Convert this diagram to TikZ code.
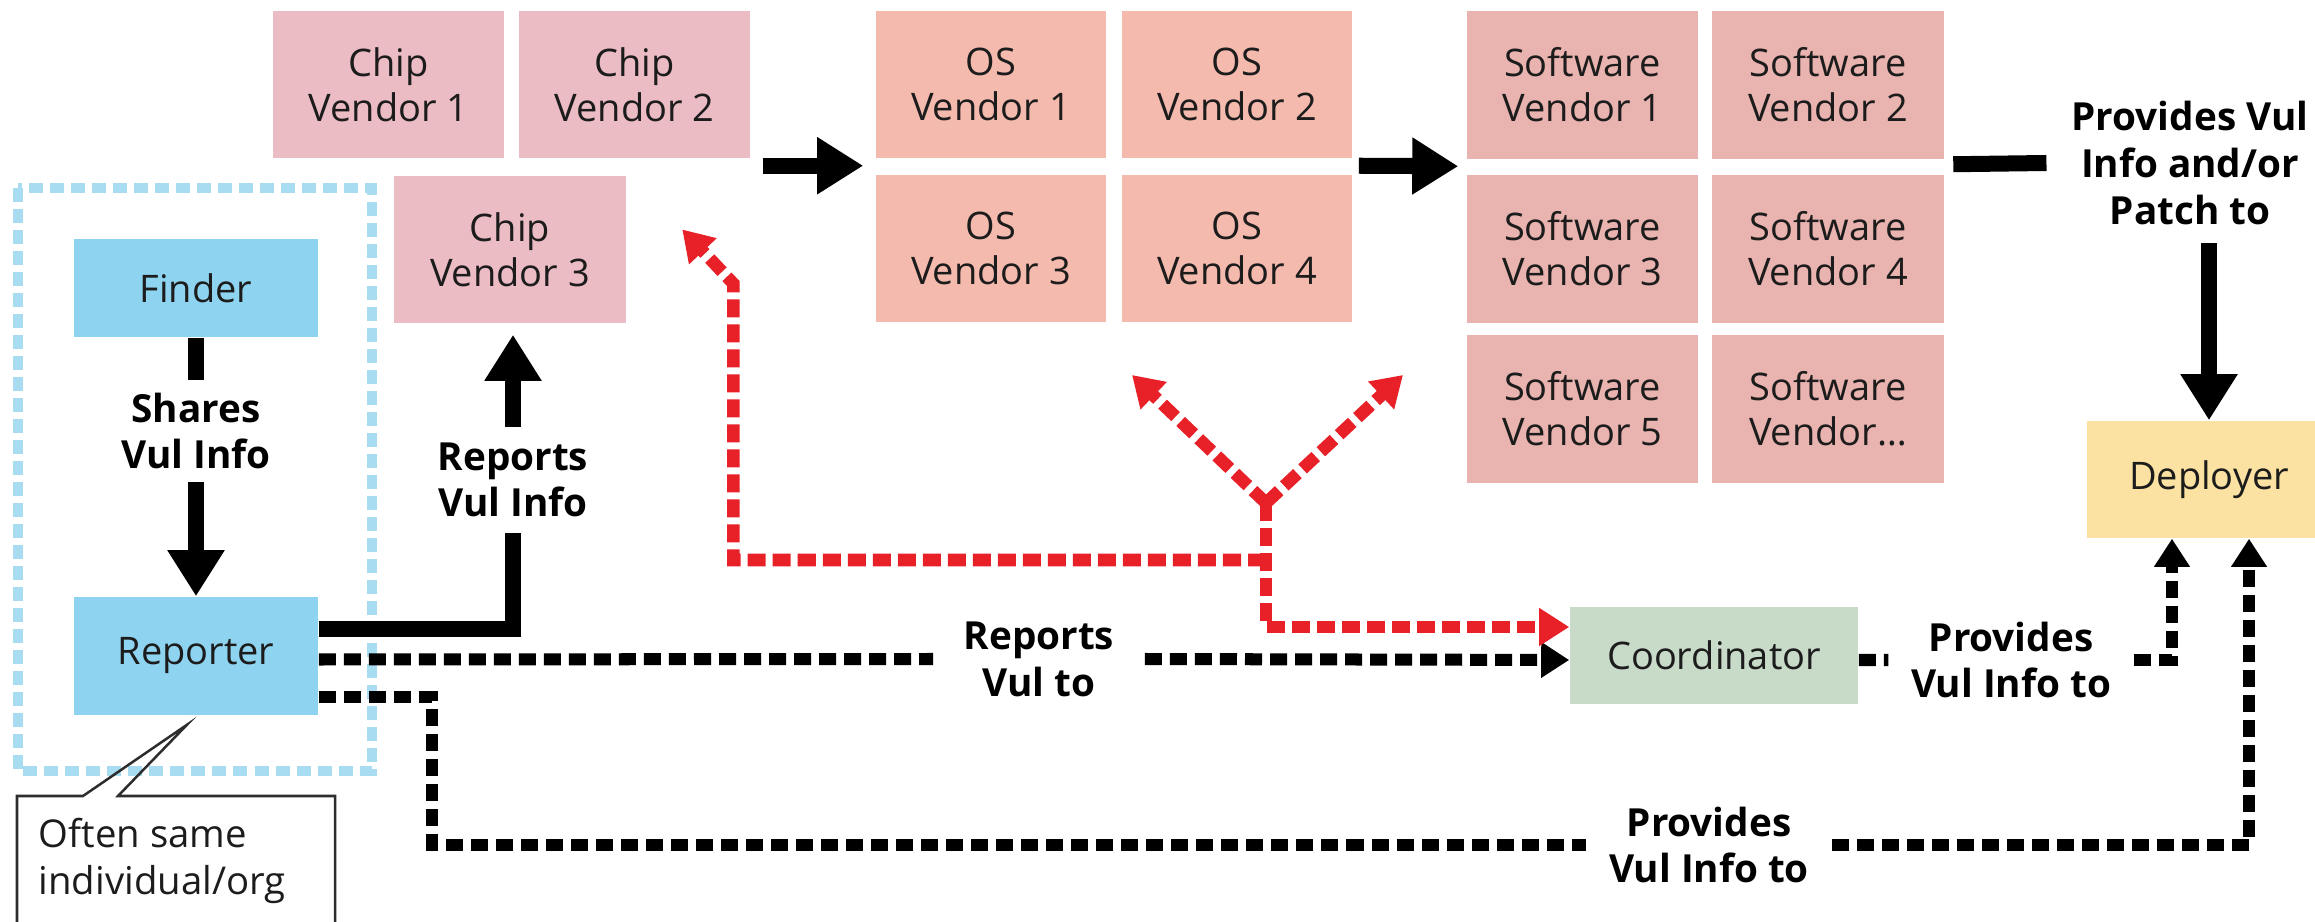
\documentclass[tikz,border=0pt]{standalone}
\usepackage{fontspec}
\setmainfont{Open Sans}
\usetikzlibrary{arrows.meta,calc}

\definecolor{txt}{RGB}{28,28,28}
\definecolor{chipc}{RGB}{236,188,197}
\definecolor{osc}{RGB}{245,186,174}
\definecolor{swc}{RGB}{233,179,175}
\definecolor{actorc}{RGB}{142,212,240}
\definecolor{groupc}{RGB}{168,221,241}
\definecolor{coordc}{RGB}{200,218,200}
\definecolor{deployc}{RGB}{252,226,162}
\definecolor{redc}{RGB}{232,32,40}
\definecolor{notec}{RGB}{45,45,45}

\begin{document}
\begin{tikzpicture}[x=0.01cm,y=-0.01cm,
  box/.style={minimum width=2.31cm, minimum height=1.47cm, inner sep=0pt,
    align=center, text=txt, font=\fontsize{10.8}{12.8}\selectfont},
  chip/.style={box, fill=chipc},
  osbox/.style={box, fill=osc, minimum width=2.30cm},
  swbox/.style={box, fill=swc},
  actor/.style={box, fill=actorc, minimum width=2.44cm},
  lbl/.style={align=center, inner sep=0pt, text=black,
    font=\fontsize{11}{13.3}\selectfont\bfseries},
  solidline/.style={line width=0.16cm, black, line join=miter},
  bigarrow/.style={solidline, -{Triangle[length=0.46cm,width=0.54cm]}},
  dline/.style={line width=0.12cm, black, dash pattern=on 0.17cm off 0.08cm, line join=miter},
  darrow/.style={dline, -{Triangle[length=0.28cm,width=0.34cm]}},
  rline/.style={line width=0.125cm, redc, dash pattern=on 0.18cm off 0.07cm, line join=miter},
  rarrow/.style={rline, -{Triangle[length=0.3cm,width=0.36cm]}},
  grp/.style={line width=0.1cm, groupc, dash pattern=on 0.14cm off 0.07cm},
  callout/.style={line width=0.025cm, notec, line join=miter}
]
\useasboundingbox (0,0) rectangle (2315,922);

% group of finder and reporter
\draw[grp] (18,188) rectangle (372,771);

% vendor boxes
\node[chip] (cv1) at (388.5,84.5) {Chip\\Vendor 1};
\node[chip] (cv2) at (634.5,84.5) {Chip\\Vendor 2};
\node[chip] (cv3) at (510,249.5) {Chip\\Vendor 3};

\node[osbox] (ov1) at (991,84.5) {OS\\Vendor 1};
\node[osbox] (ov2) at (1237,84.5) {OS\\Vendor 2};
\node[osbox] (ov3) at (991,248.5) {OS\\Vendor 3};
\node[osbox] (ov4) at (1237,248.5) {OS\\Vendor 4};

\node[swbox] (sv1) at (1582.5,85) {Software\\Vendor 1};
\node[swbox] (sv2) at (1828,85) {Software\\Vendor 2};
\node[swbox] (sv3) at (1582.5,249) {Software\\Vendor 3};
\node[swbox] (sv4) at (1828,249) {Software\\Vendor 4};
\node[swbox] (sv5) at (1582.5,409) {Software\\Vendor 5};
\node[swbox] (sv6) at (1828,409) {Software\\Vendor…};

% actors
\node[actor, minimum height=0.98cm] (finder) at (196,288) {Finder};
\node[actor, minimum height=1.18cm] (reporter) at (196,656) {Reporter};
\node[box, fill=coordc, minimum width=2.88cm, minimum height=0.97cm] (coordinator) at (1714,655.5) {Coordinator};
\node[box, fill=deployc, minimum width=2.44cm, minimum height=1.17cm] (deployer) at (2209,479.5) {Deployer};

% connector labels
\node[lbl, inner ysep=0.12cm] (shares) at (196,431) {Shares\\Vul Info};
\node[lbl, inner ysep=0.15cm] (repinfo) at (513,480) {Reports\\Vul Info};
\node[lbl, inner xsep=0.245cm, inner ysep=0.18cm] (patch) at (2190,163) {Provides Vul\\Info and/or\\Patch to};
\node[lbl, inner xsep=0.3cm] (repvul) at (1039,659) {Reports\\Vul to};
\node[lbl, inner xsep=0.22cm] (provcoord) at (2011,660) {Provides\\Vul Info to};
\node[lbl, inner xsep=0.22cm] (provrep) at (1709,845) {Provides\\Vul Info to};

% finder shares with reporter
\draw[solidline] (finder.south) -- (shares.north);
\draw[bigarrow] (shares.south) -- (reporter.north);

% reporter reports to chip vendor 3
\draw[solidline] ([yshift=0.27cm]reporter.east) -| (repinfo.south);
\draw[bigarrow, shorten >=0.11cm] (repinfo.north) -- (repinfo.north |- cv3.south);

% supply chain flow
\draw[bigarrow] ($(cv2.south east)+(12,7)$) -- ($(ov1.south west)+(-12,7)$);
\draw[bigarrow] ($(ov2.south east)+(6,7)$) -- ($(sv1.south west)+(-8,7)$);
\draw[solidline] ($(sv2.south east)+(9,5)$) -- (patch.west |- 0,163);
\draw[bigarrow] (deployer.north |- patch.south) -- (deployer.north);

% reporter reports to coordinator
\draw[dline] ([yshift=-0.035cm]reporter.east) -- (repvul.west);
\draw[darrow] (repvul.east) -- ([yshift=-0.045cm]coordinator.west);

% coordinator informs deployer
\draw[dline] ([yshift=-0.045cm]coordinator.east) -- (provcoord.west);
\draw[darrow] (provcoord.east) -| ([xshift=-0.37cm]deployer.south);

% reporter informs deployer directly
\draw[dline] ([yshift=-0.41cm]reporter.east) -- ++(113,0) |- (provrep.west);
\draw[darrow] (provrep.east) -| ([xshift=0.4cm]deployer.south);

% coordinator relays to vendors
\coordinate (fork) at (1266,503);
\coordinate (join) at (1266,560);
\coordinate (toOS) at (1132,375);
\coordinate (toSW) at (1403,375);
\draw[rarrow] (fork) |- ([yshift=0.285cm]coordinator.west);
\draw[rarrow] (join) -| ($(cv3.east)+(107,34)$) -- ($(cv3.east)+(56,-20)$);
\draw[rarrow] (fork) -- (toOS);
\draw[rarrow] (fork) -- (toSW);

% note on finder and reporter
\draw[callout] (17,930) -- (17,796) -- (83,796) -- ($(reporter.south)+(-9,9)$) -- (118,796) -- (335,796) -- (335,930);
\node[anchor=west, align=left, inner sep=0pt, text=txt, font=\fontsize{10.9}{13.6}\selectfont] (note) at (38,861) {Often same\\individual/org};
\end{tikzpicture}
\end{document}
